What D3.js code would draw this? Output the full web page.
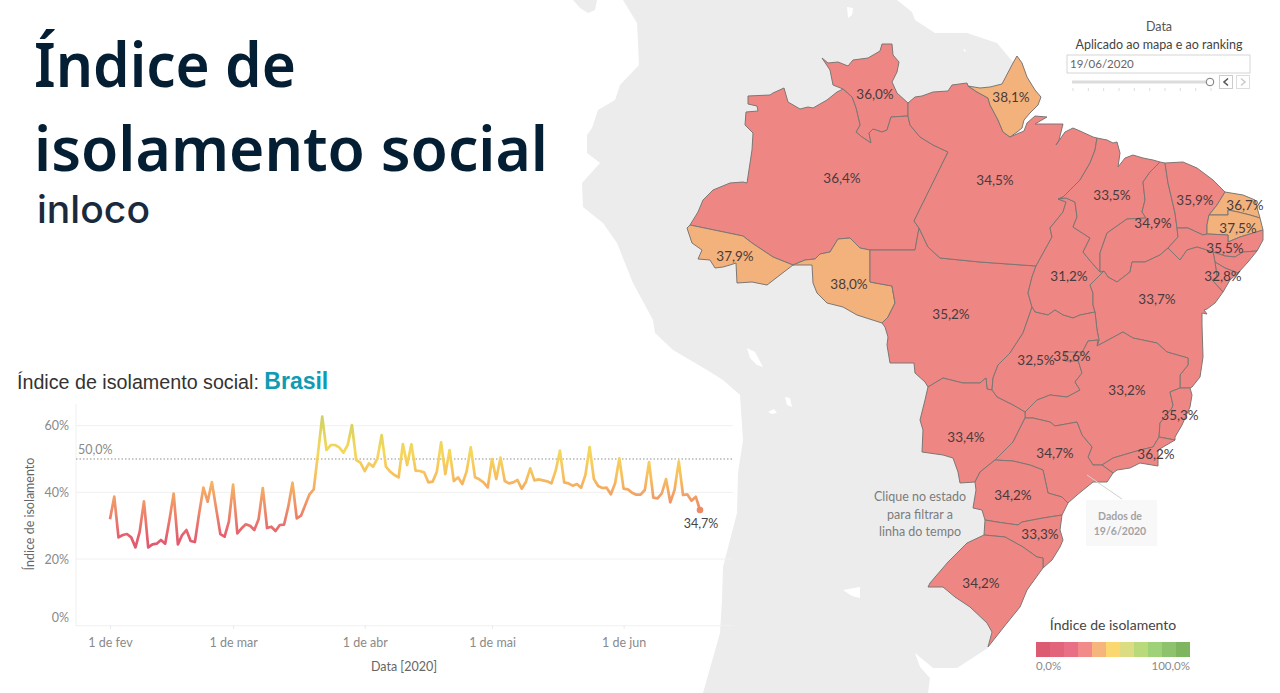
<!DOCTYPE html>
<html>
<head>
<meta charset="utf-8">
<script src="https://cdn.jsdelivr.net/npm/d3@7"></script>
<style>
html, body { margin: 0; padding: 0; background: #fff; overflow: hidden; }
text { font-family: Lato, sans-serif; }
</style>
</head>
<body>
<div id="chart"></div>
<script>
// daily index per month
const febValues = [31.9,38.7,26.5,27.2,27.5,26.5,23.5,28.2,37.3,23.5,24.4,24.6,25.7,24.6,31.7,39.6,24.4,27.2,28.7,25.4,25.1,33.7,41.4,37.2,43.1,35.2,27.5,26.7,31.2];
const marValues = [42.3,27.7,29.2,30.4,30.0,28.7,31.9,41.3,29.3,29.7,28.4,30.2,30.3,35.7,42.9,32.2,33.0,36.2,39.4,40.9,51.7,62.7,52.7,54.2,54.2,53.5,51.9,54.2,60.2,49.7,48.9];
const aprValues = [46.4,48.7,47.7,50.2,57.2,47.7,46.2,45.2,44.5,54.5,48.2,54.4,46.5,46.4,46.0,43.0,43.2,46.2,55.0,45.5,52.7,43.4,44.5,42.5,46.2,53.5,44.5,43.9,43.0,41.5];
const mayValues = [50.0,44.0,50.4,43.4,42.7,43.0,43.7,41.1,43.2,47.2,43.6,43.9,43.6,43.3,42.7,46.5,52.5,43.0,42.7,42.0,42.5,41.4,45.2,53.6,44.0,41.9,41.3,41.4,39.4,42.7,50.2];
const junValues = [41.1,40.9,39.9,39.3,39.3,40.7,49.1,38.4,38.2,39.7,44.0,37.0,40.7,49.3,39.2,39.4,37.5,38.7,34.7];
const dailyValues = febValues.concat(marValues, aprValues, mayValues, junValues);

const yTicks = [0, 20, 40, 60];
const referenceValue = 50;
const monthTicks = [[1, "1 de fev"], [2, "1 de mar"], [3, "1 de abr"], [4, "1 de mai"], [5, "1 de jun"]];

// state values on 19/6/2020 (Alagoas has no label on the map)
const ufNames = ["RR","AP","AM","PA","MA","CE","RN","PB","PI","PE","SE","AC","RO","TO","BA","MT","GO","DF","MG","ES","RJ","MS","SP","PR","SC","RS"];
const ufValues = [36.0,38.1,36.4,34.5,33.5,35.9,36.7,37.5,34.9,35.5,32.8,37.9,38.0,31.2,33.7,35.2,32.5,35.6,33.2,35.3,36.2,33.4,34.7,34.2,33.3,34.2];

const legendSteps = ["#dc5a72","#e2647a","#e96f87","#f28a89","#f5b57c","#fbd86f","#dcdc82","#b9d97b","#9fd178","#8ec26d","#7fb55f"];

// map outlines, in map units, shared borders listed once
const rrNorth = [[163,59],[153,55],[150,40],[142,28],[148,33],[158,32],[168,36],[173,30],[188,28],[200,21],[202,14],[212,14],[213,25],[219,32],[217,42],[212,52],[217,63],[228,73]];
const paRr = [[228,73],[228,86]];
const amRr = [[228,86],[211,87],[207,100],[202,102],[193,99],[189,103],[191,113],[182,107],[176,102],[180,95],[176,78],[172,67],[163,59]];
const amNorth = [[163,59],[157,62],[147,70],[133,78],[128,77],[120,79],[108,72],[104,58],[93,63],[90,65],[68,66],[68,74],[77,76],[78,81],[66,82],[65,95],[73,103],[72,120],[67,153],[63,152],[50,153],[33,160],[23,170],[18,182],[10,195]];
const acAm = [[10,195],[63,206],[72,213],[93,227],[113,235]];
const acOuter = [[113,235],[100,245],[87,255],[72,252],[57,253],[56,233],[50,235],[43,237],[35,238],[30,230],[18,229],[22,220],[12,213],[7,198],[10,195]];
const amRo = [[113,235],[125,230],[135,229],[140,224],[150,222],[158,209],[170,208],[180,218],[190,220]];
const amMt = [[190,220],[235,220],[239,198]];
const amPa = [[239,198],[234,191],[268,122],[253,115],[240,107],[230,95],[228,86]];
const roMt = [[190,220],[190,252],[212,256],[215,273],[208,287],[202,293]];
const roSouth = [[202,293],[177,285],[163,277],[147,273],[137,263],[133,253],[132,235],[113,235]];
const mtPa = [[239,198],[248,217],[260,228],[300,232],[356,236]];
const toMt = [[352,277],[348,263],[352,247],[356,236]];
const mtGo = [[352,277],[350,283],[343,303],[330,323],[318,335],[313,348],[312,360]];
const mtMs = [[312,360],[307,359],[306,348],[300,353],[283,353],[263,348],[248,357]];
const mtOuter = [[248,357],[245,352],[235,343],[234,333],[210,333],[207,315],[208,307],[205,297],[202,293]];
const paNorth = [[228,73],[235,67],[242,66],[253,62],[268,61],[272,55],[287,53],[288,56]];
const apPa = [[288,56],[297,62],[308,68],[310,75],[318,90],[323,102],[330,107]];
const apOuter = [[330,107],[337,102],[342,98],[344,90],[350,83],[358,75],[361,67],[355,60],[347,47],[342,33],[337,26],[333,33],[322,54],[310,57],[300,58],[288,56]];
const paCoast = [[330,107],[344,101],[347,93],[355,86],[367,87],[355,94],[383,94],[379,110],[376,115],[385,102],[393,98],[400,101],[413,107],[417,108]];
const paMa = [[417,108],[415,120],[410,133],[400,150],[383,167],[378,169]];
const paTo = [[378,169],[386,172],[383,182],[370,198],[372,207],[356,236]];
const toMa = [[378,169],[386,168],[395,172],[397,187],[393,197],[410,208],[403,222],[412,233],[420,242]];
const toPi = [[420,242],[424,241]];
const toBa = [[424,241],[410,255],[413,263],[413,275],[415,282]];
const toGo = [[415,282],[400,285],[393,288],[383,285],[375,280],[368,285],[355,282],[352,277]];
const maCoast = [[417,108],[427,110],[433,113],[437,112],[440,123],[438,137],[445,128],[453,125],[463,128],[473,130],[480,132]];
const maPi = [[480,132],[470,142],[463,152],[465,170],[462,182],[466,188],[447,189],[427,203],[420,223],[420,242]];
const piCoast = [[480,132],[485,133]];
const piCe = [[485,133],[488,153],[495,183],[497,198]];
const piPe = [[497,198],[498,207],[488,218]];
const piBa = [[488,218],[480,225],[465,232],[452,232],[450,242],[437,252],[428,247],[424,241]];
const ceCoast = [[485,133],[503,132],[517,138],[533,150],[545,162]];
const ceRn = [[545,162],[537,175],[529,185]];
const cePb = [[529,185],[527,195],[527,204]];
const peCe = [[497,198],[508,198],[523,205],[527,204]];
const rnCoast = [[545,162],[563,165],[575,170],[580,188]];
const rnPb = [[580,188],[570,185],[558,182],[548,180],[548,185],[529,185]];
const pbCoast = [[580,188],[583,200]];
const pbPe = [[583,200],[560,207],[548,212],[548,205],[527,204]];
const peCoast = [[583,200],[583,210],[577,221]];
const peAl = [[577,221],[563,222],[555,227],[545,226],[533,222]];
const peBa = [[533,222],[517,217],[507,220],[500,230],[495,225],[488,218]];
const alCoast = [[577,221],[568,232],[558,243]];
const alSe = [[535,232],[545,238],[558,243]];
const alBa = [[535,232],[533,222]];
const seCoast = [[558,243],[550,250],[543,262]];
const seBa = [[535,232],[537,247],[532,250],[543,262]];
const baCoast = [[543,262],[535,273],[527,279],[524,280],[527,284],[522,283],[522,295],[523,327],[520,347],[512,357],[510,358]];
const baEs = [[500,358],[510,358]];
const mgBa = [[417,316],[443,302],[453,308],[477,313],[487,322],[508,328],[508,335],[500,345],[500,358]];
const goBa = [[415,282],[417,300],[419,310],[417,316]];
const goMg = [[345,382],[357,370],[370,365],[387,367],[400,360],[395,352],[402,343],[398,330],[405,317],[408,311],[418,310],[417,316]];
const goMs = [[312,360],[317,367],[333,375],[345,382]];
const msMg = [[345,388],[345,382]];
const mgEs = [[500,358],[490,362],[493,375],[492,378],[480,393],[479,407]];
const mgRj = [[479,407],[473,417],[460,420],[433,428],[422,435]];
const spMg = [[345,388],[353,388],[370,392],[375,396],[397,392],[402,405],[412,417],[408,427],[413,435],[422,435]];
const esCoast = [[510,358],[512,365],[510,377],[502,395],[495,407],[495,410]];
const esRj = [[479,407],[495,410]];
const rjCoast = [[495,410],[478,420],[478,436],[460,433],[450,438],[437,440],[433,443]];
const spRj = [[422,435],[433,443]];
const spCoast = [[433,443],[427,452],[413,452],[397,465],[388,473]];
const spPr = [[315,430],[333,431],[350,435],[363,440],[368,463],[382,467],[388,473]];
const msOuter = [[248,357],[245,370],[240,390],[243,400],[242,422],[263,425],[273,428],[278,442],[280,453],[295,452]];
const msPr = [[295,452],[300,442],[315,430]];
const msSp = [[315,430],[333,412],[345,388]];
const prCoast = [[388,473],[382,485]];
const prSc = [[382,485],[363,488],[342,492],[338,495],[317,492],[305,490]];
const prWest = [[305,490],[302,480],[293,478],[296,460],[295,452]];
const scCoast = [[382,485],[380,500],[383,510],[380,517],[372,530],[363,538]];
const scWest = [[305,490],[304,505]];
const scRs = [[304,505],[325,507],[343,517],[357,527],[363,528],[363,538]];
const rsOuter = [[304,505],[287,513],[268,532],[250,553],[248,557],[263,557],[275,567],[290,577],[307,593],[312,602],[308,617]];
const rsCoast = [[308,617],[327,593],[340,577],[347,560],[360,542],[363,538]];
const dfOutline = [[385,322],[401,322],[401,331],[385,331]];

// grey continent behind Brazil, the far side of it is hidden under the states
const landOutline = [[-57,-30],[-43,-7],[-42,13],[-41,35],[-60,55],[-65,70],[-82,80],[-88,98],[-93,105],[-93,123],[-80,133],[-98,153],[-97,177],[-77,193],[-63,213],[-47,253],[-27,290],[-25,303],[-7,320],[27,340],[43,350],[60,365],[63,410],[58,443],[57,483],[43,537],[42,570],[40,603],[23,663],[248,663],[250,648],[240,637],[235,623],[253,638],[277,638],[308,618],[330,500],[345,300],[340,110],[337,26],[333,32],[317,13],[287,3],[255,3],[235,-10],[232,-18],[217,-30]];
const caribbeanOutline = [[-107,-30],[-100,-22],[-92,-17],[-85,-20],[-83,-30]];
const lakeOutlines = [
  [[67,318],[75,322],[83,337],[77,335],[70,328]],
  [[88,382],[94,379],[97,383],[92,384]],
  [[105,367],[110,368],[112,377],[107,375]],
  [[163,560],[180,557],[180,568],[172,566]],
  [[167,-23],[173,-22],[172,-15],[168,-12]],
  [[283,19],[286,20],[285,22]]
];

function rev(a) { return a.slice().reverse(); }

// each state is a ring of the shared borders above
const ufRings = {
  RR: [rrNorth, paRr, amRr],
  AM: [amRr, amNorth, acAm, amRo, amMt, amPa],
  AC: [acOuter, acAm],
  RO: [amRo, roMt, roSouth],
  MT: [amMt, mtPa, rev(toMt), mtGo, mtMs, mtOuter, rev(roMt)],
  PA: [paNorth, apPa, paCoast, paMa, paTo, rev(mtPa), amPa, rev(paRr)],
  AP: [apPa, apOuter],
  TO: [toMa, toPi, toBa, toGo, toMt, rev(paTo)],
  MA: [maCoast, maPi, rev(toMa), rev(paMa)],
  PI: [piCoast, piCe, piPe, piBa, rev(toPi), rev(maPi)],
  CE: [ceCoast, ceRn, cePb, rev(peCe), rev(piCe)],
  RN: [rnCoast, rnPb, rev(ceRn)],
  PB: [rev(rnPb), pbCoast, pbPe, rev(cePb)],
  PE: [peCe, rev(pbPe), peCoast, peAl, peBa, rev(piPe)],
  AL: [rev(peAl), alCoast, rev(alSe), alBa],
  SE: [alSe, seCoast, rev(seBa)],
  BA: [rev(piBa), rev(peBa), rev(alBa), seBa, baCoast, rev(baEs), rev(mgBa), rev(goBa), rev(toBa)],
  GO: [rev(toGo), goBa, rev(goMg), rev(goMs), rev(mtGo)],
  DF: [dfOutline],
  MG: [mgBa, mgEs, mgRj, rev(spMg), msMg, goMg],
  ES: [baEs, esCoast, rev(esRj), rev(mgEs)],
  RJ: [rev(mgRj), esRj, rjCoast, rev(spRj)],
  MS: [mtMs, msOuter, msPr, msSp, msMg, rev(goMs)],
  SP: [spMg, spRj, spCoast, rev(spPr), msSp],
  PR: [msPr, spPr, prCoast, prSc, prWest],
  SC: [scCoast, rev(scRs), rev(scWest), rev(prSc)],
  RS: [scRs, rev(rsCoast), rev(rsOuter)]
};

var width = 1280, height = 693;

var svg = d3.select("#chart")
    .append("svg")
    .attr("width", width)
    .attr("height", height)
    .style("display", "block");

// map units to the page
var mapX = d3.scaleLinear().domain([0, 600]).range([680, 1280]);
var mapY = d3.scaleLinear().domain([0, 663]).range([30, 693]);
var path = d3.geoPath(d3.geoTransform({
    point: function (x, y) { this.stream.point(mapX(x), mapY(y)); }
}));

function ring(parts) {
    var pts = parts.reduce(function (acc, p) { return acc.concat(p); }, []);
    pts.push(pts[0]);
    return { type: "Polygon", coordinates: [pts] };
}

var ufValue = {};
ufNames.forEach(function (n, i) { ufValue[n] = ufValues[i]; });
var ufColor = d3.scaleThreshold().domain([36.5]).range(["#ee8784", "#f3b27b"]);

var land = svg.append("g");
land.append("path").attr("d", path(ring([landOutline]))).attr("fill", "#ececed");
land.append("path").attr("d", path(ring([caribbeanOutline]))).attr("fill", "#ececed");
land.selectAll(".lake")
    .data(lakeOutlines)
    .enter()
    .append("path")
    .attr("class", "lake")
    .attr("d", function (d) { return path(ring([d])); })
    .attr("fill", "#fff");

svg.append("g")
    .selectAll("path")
    .data(Object.keys(ufRings))
    .enter()
    .append("path")
    .attr("d", function (k) { return path(ring(ufRings[k])); })
    .attr("fill", function (k) { return ufColor(ufValue[k] || 0); })
    .attr("stroke", "#7d7673")
    .attr("stroke-width", 1)
    .attr("stroke-linejoin", "round");

// labels sit at a hand placed anchor per state, in map units
const ufLabelX = [195,331,162,315,432,515,565,558,473,545,543,55,169,389,477,271,356,392,447,500,476,286,375,333,360,301];
const ufLabelY = [64,67,148,150,165,170,175,198,193,218,246,226,254,246,269,284,330,326,360,385,424,407,423,465,504,553];

svg.append("g")
    .selectAll("text")
    .data(ufNames)
    .enter()
    .append("text")
    .attr("x", function (d, i) { return mapX(ufLabelX[i]); })
    .attr("y", function (d, i) { return mapY(ufLabelY[i]); })
    .attr("dy", "0.35em")
    .attr("text-anchor", "middle")
    .attr("font-size", 13.5)
    .attr("fill", "#4a3a3c")
    .text(function (d, i) { return d3.format(".1f")(ufValues[i]).replace(".", ",") + "%"; });

// headline
svg.append("text").attr("x", 34).attr("y", 87).attr("font-size", 62).attr("font-weight", 600)
    .attr("textLength", 262).attr("lengthAdjust", "spacingAndGlyphs")
    .style("font-family", "'Noto Sans'").attr("fill", "#041e33").text("Índice de");
svg.append("text").attr("x", 34).attr("y", 171).attr("font-size", 62).attr("font-weight", 600)
    .attr("textLength", 514).attr("lengthAdjust", "spacingAndGlyphs")
    .style("font-family", "'Noto Sans'").attr("fill", "#041e33").text("isolamento social");
svg.append("text").attr("x", 37).attr("y", 223).attr("font-size", 38).attr("font-weight", 500)
    .attr("textLength", 113).attr("lengthAdjust", "spacingAndGlyphs")
    .style("font-family", "Inter").attr("fill", "#1a2a3c").text("inloco");

// line chart title
var lineTitle = svg.append("text").attr("x", 17).attr("y", 389).attr("font-size", 19.7)
    .style("font-family", "'Liberation Sans'").attr("fill", "#333");
lineTitle.append("tspan").text("Índice de isolamento social: ");
lineTitle.append("tspan").attr("font-size", 23).attr("font-weight", 700).attr("fill", "#0f9bb3").text("Brasil");

var x = d3.scaleTime()
    .domain([new Date(2020, 1, 1), new Date(2020, 5, 19)])
    .range([110, 700]);
var y = d3.scaleLinear()
    .domain([0, 66.5])
    .range([625.7, 404]);

var data = dailyValues.map(function (v, i) {
    return { date: d3.timeDay.offset(new Date(2020, 1, 1), i), value: v };
});

var plotLeft = 76, plotRight = 733;

// gridlines
svg.append("g")
    .selectAll("line")
    .data(yTicks)
    .enter()
    .append("line")
    .attr("x1", plotLeft).attr("x2", plotRight)
    .attr("y1", function (d) { return y(d); })
    .attr("y2", function (d) { return y(d); })
    .attr("stroke", "#f0f0f0");
svg.append("line")
    .attr("x1", plotLeft).attr("x2", plotLeft)
    .attr("y1", y.range()[1]).attr("y2", y.range()[0])
    .attr("stroke", "#f0f0f0");

var yAxis = svg.append("g")
    .attr("transform", "translate(" + plotLeft + ",0)")
    .call(d3.axisLeft(y).tickValues(yTicks).tickSize(0).tickPadding(7).tickFormat(function (d) { return d + "%"; }));
yAxis.select(".domain").remove();
yAxis.selectAll("text")
    .attr("font-size", 12.5)
    .style("font-family", "Lato")
    .attr("fill", "#8a8a8a")
    .attr("dy", function (d) { return d === 0 ? "-0.3em" : "0.32em"; });

var xAxis = svg.append("g")
    .attr("transform", "translate(0," + y(0) + ")")
    .call(d3.axisBottom(x)
        .tickValues(monthTicks.map(function (t) { return new Date(2020, t[0], 1); }))
        .tickSize(3).tickPadding(9)
        .tickFormat(function (d, i) { return monthTicks[i][1]; }));
xAxis.select(".domain").remove();
xAxis.selectAll("line").attr("stroke", "#e8e8e8");
xAxis.selectAll("text").attr("font-size", 12.5).style("font-family", "Lato").attr("fill", "#8a8a8a");

svg.append("text")
    .attr("transform", "translate(34,514)rotate(-90)")
    .attr("text-anchor", "middle")
    .attr("font-size", 12.5)
    .attr("fill", "#666")
    .text("Índice de isolamento");
svg.append("text")
    .attr("x", 404).attr("y", 671)
    .attr("text-anchor", "middle")
    .attr("font-size", 12.5)
    .attr("fill", "#666")
    .text("Data [2020]");

// 50% reference
svg.append("line")
    .attr("x1", plotLeft).attr("x2", plotRight)
    .attr("y1", y(referenceValue)).attr("y2", y(referenceValue))
    .attr("stroke", "#b5b5b5")
    .attr("stroke-width", 1.4)
    .attr("stroke-dasharray", "1.5,2");
svg.append("text")
    .attr("x", 78).attr("y", y(referenceValue) - 5)
    .attr("font-size", 12.5)
    .attr("fill", "#8a8a8a")
    .text("50,0%");

// line coloured by its value
var lineColor = d3.scaleLinear()
    .domain([20, 27, 36, 45, 52, 62])
    .range(["#db4f70", "#e5606f", "#f09068", "#f7c05e", "#f6d75a", "#d2d264"]);

var grad = svg.append("defs").append("linearGradient")
    .attr("id", "lineGrad")
    .attr("gradientUnits", "userSpaceOnUse")
    .attr("x1", 0).attr("x2", 0)
    .attr("y1", y(20)).attr("y2", y(62));
lineColor.domain().forEach(function (d) {
    grad.append("stop")
        .attr("offset", (d - 20) / 42)
        .attr("stop-color", lineColor(d));
});

svg.append("path")
    .datum(data)
    .attr("fill", "none")
    .attr("stroke", "url(#lineGrad)")
    .attr("stroke-width", 2.7)
    .attr("stroke-linejoin", "round")
    .attr("d", d3.line()
        .x(function (d) { return x(d.date); })
        .y(function (d) { return y(d.value); }));

var last = data[data.length - 1];
svg.append("circle")
    .attr("cx", x(last.date)).attr("cy", y(last.value))
    .attr("r", 3.3)
    .attr("fill", "#ee8a62");
svg.append("text")
    .attr("x", x(last.date) + 1).attr("y", y(last.value) + 18)
    .attr("text-anchor", "middle")
    .attr("font-size", 12.5)
    .attr("fill", "#444")
    .text("34,7%");

// date filter
svg.append("text").attr("x", 1159).attr("y", 31).attr("text-anchor", "middle").attr("font-size", 12.5).attr("fill", "#555").text("Data");
svg.append("text").attr("x", 1159).attr("y", 49).attr("text-anchor", "middle").attr("font-size", 12.5).attr("fill", "#444").text("Aplicado ao mapa e ao ranking");
svg.append("rect").attr("x", 1067).attr("y", 55).attr("width", 183).attr("height", 18).attr("fill", "#fff").attr("stroke", "#d5d5d5");
svg.append("text").attr("x", 1070).attr("y", 68).attr("font-size", 11.5).attr("fill", "#666").text("19/06/2020");
svg.append("rect").attr("x", 1072).attr("y", 80.5).attr("width", 134).attr("height", 3).attr("fill", "#dcdcdc");
var sliderTicks = d3.scaleLinear().domain([0, 9]).range([1073, 1211]);
svg.append("g").selectAll("line").data(d3.range(10)).enter().append("line")
    .attr("x1", function (d) { return sliderTicks(d); })
    .attr("x2", function (d) { return sliderTicks(d); })
    .attr("y1", 88).attr("y2", 91)
    .attr("stroke", "#ddd");
svg.append("circle").attr("cx", 1210).attr("cy", 82).attr("r", 3.8).attr("fill", "#fff").attr("stroke", "#777");
svg.append("rect").attr("x", 1219.5).attr("y", 75.5).attr("width", 13).attr("height", 13).attr("fill", "#fff").attr("stroke", "#ccc");
svg.append("path").attr("d", "M1228 78.5L1224 82L1228 85.5").attr("fill", "none").attr("stroke", "#555").attr("stroke-width", 1.6);
svg.append("rect").attr("x", 1236.5).attr("y", 75.5).attr("width", 13).attr("height", 13).attr("fill", "#fff").attr("stroke", "#ddd");
svg.append("path").attr("d", "M1241 78.5L1245 82L1241 85.5").attr("fill", "none").attr("stroke", "#ccc").attr("stroke-width", 1.6);

// annotations
["Clique no estado", "para filtrar a", "linha do tempo"].forEach(function (t, i) {
    svg.append("text").attr("x", 920).attr("y", 501 + i * 17.5).attr("text-anchor", "middle")
        .attr("font-size", 12.5).attr("fill", "#7c7c7c").text(t);
});
svg.append("line").attr("x1", 1087).attr("y1", 475).attr("x2", 1122).attr("y2", 499).attr("stroke", "#d0d0d0");
svg.append("rect").attr("x", 1086).attr("y", 500).attr("width", 71).attr("height", 46).attr("fill", "#f8f8f8");
svg.append("text").attr("x", 1120).attr("y", 520).attr("text-anchor", "middle").attr("font-size", 10.5).attr("font-weight", 700).attr("fill", "#a3a3a3").text("Dados de");
svg.append("text").attr("x", 1120).attr("y", 535).attr("text-anchor", "middle").attr("font-size", 10.5).attr("font-weight", 700).attr("fill", "#a3a3a3").text("19/6/2020");

// colour legend
svg.append("text").attr("x", 1113).attr("y", 630).attr("text-anchor", "middle").attr("font-size", 14).attr("fill", "#444").text("Índice de isolamento");
var legendX = d3.scaleBand().domain(d3.range(legendSteps.length)).range([1036, 1190]);
svg.append("g").selectAll("rect").data(legendSteps).enter().append("rect")
    .attr("x", function (d, i) { return legendX(i); })
    .attr("y", 642)
    .attr("width", legendX.bandwidth())
    .attr("height", 15)
    .attr("fill", function (d) { return d; });
svg.append("text").attr("x", 1036).attr("y", 670).attr("font-size", 11.5).attr("fill", "#8a8a8a").text("0,0%");
svg.append("text").attr("x", 1190).attr("y", 670).attr("text-anchor", "end").attr("font-size", 11.5).attr("fill", "#8a8a8a").text("100,0%");
</script>
</body>
</html>
